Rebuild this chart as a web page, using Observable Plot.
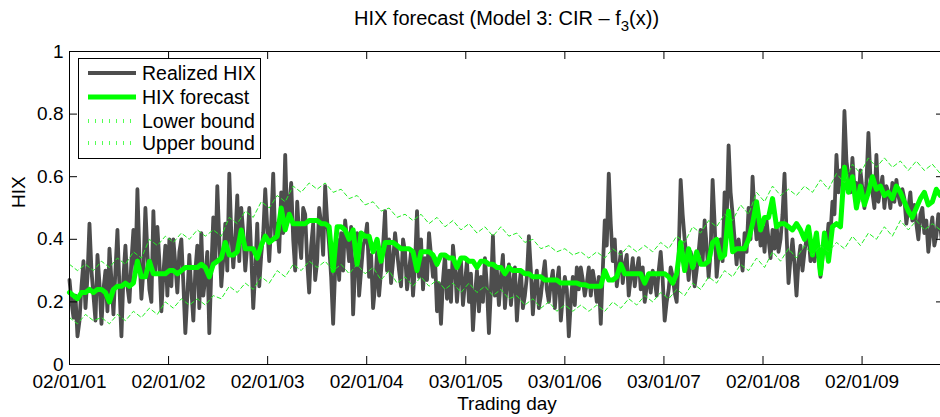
<!DOCTYPE html>
<html><head><meta charset="utf-8">
<script src="https://cdn.jsdelivr.net/npm/d3@7"></script>
<script src="https://cdn.jsdelivr.net/npm/@observablehq/plot@0.6"></script>
<style>
html,body{margin:0;padding:0;background:#fff;overflow:hidden;width:940px;height:417px}
#chart{position:relative;width:940px;height:417px;overflow:hidden}
#chart svg{display:block;max-width:none}
</style></head><body><div id="chart"></div>
<script>
// x-axis: trading-day index; tick labels are dates
const tickDays = [0, 250, 500, 750, 1000, 1250, 1500, 1750, 2000];
const tickLabels = ["02/01/01","02/01/02","02/01/03","02/01/04","03/01/05","03/01/06","03/01/07","02/01/08","02/01/09"];
const yTicks = [0, 0.2, 0.4, 0.6, 0.8, 1];
const seriesNames = ["Realized HIX", "HIX forecast", "Lower bound", "Upper bound"];
const realizedStep = 5.04;  // trading days between realized samples
const forecastStep = 10.08; // trading days between forecast samples
const boundStep = 20.16;    // trading days between samples of the bounds
const lastDay = 2208;

const realizedHIX = [
  0.27,0.20,0.15,0.22,0.09,0.14,0.25,0.33,0.18,0.28,0.45,0.30,0.22,0.14,0.35,0.26,0.13,0.24,0.30,0.17,0.37,0.27,0.16,0.30,0.43,0.25,0.09,0.28,0.38,0.25,0.20,0.33,0.43,0.30,0.56,0.35,0.21,0.30,0.50,0.36,0.24,0.20,0.49,0.30,0.44,0.33,0.17,0.29,0.38,0.22,
  0.40,0.25,0.40,0.32,0.23,0.36,0.40,0.26,0.10,0.22,0.35,0.24,0.14,0.30,0.38,0.18,0.42,0.22,0.28,0.36,0.10,0.30,0.47,0.33,0.57,0.40,0.25,0.34,0.45,0.30,0.61,0.42,0.31,0.40,0.54,0.33,0.50,0.42,0.30,0.38,0.50,0.35,0.18,0.30,0.45,0.25,0.35,0.42,0.56,0.44,
  0.33,0.45,0.61,0.40,0.45,0.36,0.55,0.42,0.67,0.45,0.50,0.58,0.40,0.30,0.52,0.41,0.34,0.50,0.48,0.33,0.23,0.38,0.45,0.27,0.33,0.50,0.45,0.35,0.57,0.46,0.38,0.28,0.13,0.30,0.40,0.27,0.42,0.30,0.46,0.40,0.33,0.44,0.16,0.31,0.42,0.22,0.30,0.38,0.40,0.45,
  0.28,0.35,0.18,0.25,0.36,0.22,0.30,0.38,0.49,0.30,0.40,0.26,0.33,0.42,0.36,0.30,0.25,0.40,0.36,0.24,0.30,0.36,0.22,0.32,0.49,0.28,0.40,0.24,0.34,0.27,0.42,0.35,0.28,0.34,0.17,0.26,0.13,0.27,0.35,0.21,0.30,0.20,0.38,0.31,0.20,0.29,0.33,0.19,0.26,0.33,
  0.20,0.29,0.11,0.22,0.30,0.17,0.28,0.20,0.34,0.25,0.10,0.24,0.41,0.22,0.30,0.19,0.28,0.35,0.18,0.26,0.32,0.19,0.26,0.31,0.14,0.24,0.30,0.18,0.22,0.28,0.41,0.30,0.16,0.25,0.30,0.18,0.22,0.28,0.33,0.24,0.20,0.26,0.30,0.18,0.26,0.31,0.14,0.22,0.28,0.24,
  0.09,0.20,0.28,0.19,0.31,0.24,0.31,0.27,0.22,0.26,0.31,0.22,0.30,0.26,0.20,0.28,0.13,0.30,0.46,0.38,0.61,0.45,0.33,0.40,0.25,0.30,0.36,0.26,0.32,0.35,0.22,0.28,0.34,0.25,0.30,0.34,0.24,0.31,0.20,0.25,0.29,0.23,0.30,0.27,0.22,0.30,0.36,0.27,0.14,0.20,
  0.24,0.31,0.28,0.23,0.20,0.35,0.59,0.48,0.40,0.34,0.27,0.36,0.33,0.25,0.30,0.36,0.43,0.33,0.46,0.38,0.28,0.36,0.59,0.45,0.28,0.35,0.40,0.33,0.55,0.45,0.70,0.55,0.48,0.40,0.32,0.40,0.35,0.30,0.42,0.36,0.50,0.40,0.60,0.48,0.40,0.47,0.38,0.44,0.36,0.46,
  0.40,0.34,0.43,0.37,0.45,0.36,0.40,0.48,0.61,0.42,0.26,0.34,0.40,0.32,0.22,0.33,0.38,0.30,0.36,0.40,0.42,0.33,0.37,0.33,0.40,0.35,0.28,0.34,0.40,0.37,0.45,0.42,0.52,0.48,0.67,0.55,0.62,0.58,0.81,0.65,0.60,0.55,0.66,0.56,0.58,0.52,0.62,0.56,0.50,0.58,
  0.74,0.60,0.55,0.50,0.67,0.52,0.56,0.60,0.50,0.57,0.55,0.50,0.58,0.52,0.59,0.54,0.51,0.56,0.53,0.45,0.50,0.55,0.46,0.51,0.45,0.40,0.48,0.50,0.42,0.46,0.36,0.42,0.47,0.38,0.41,0.48,0.44,0.38,0.47
];
const forecastHIX = [
  0.23,0.22,0.21,0.23,0.23,0.24,0.23,0.24,0.24,0.23,0.20,0.24,0.25,0.25,0.26,0.25,0.26,0.33,0.28,0.28,0.33,0.29,0.29,0.29,0.29,
  0.30,0.30,0.29,0.30,0.31,0.31,0.31,0.31,0.32,0.31,0.28,0.32,0.33,0.34,0.39,0.35,0.35,0.36,0.43,0.37,0.37,0.37,0.34,0.38,0.41,
  0.39,0.40,0.41,0.50,0.43,0.48,0.45,0.45,0.45,0.45,0.46,0.46,0.46,0.45,0.45,0.44,0.30,0.44,0.44,0.43,0.40,0.43,0.32,0.42,0.41,
  0.41,0.36,0.40,0.33,0.39,0.39,0.39,0.38,0.37,0.37,0.37,0.36,0.30,0.36,0.36,0.36,0.35,0.32,0.35,0.35,0.34,0.34,0.31,0.34,0.34,
  0.33,0.33,0.31,0.33,0.33,0.32,0.32,0.31,0.31,0.29,0.31,0.30,0.30,0.30,0.29,0.29,0.28,0.28,0.28,0.27,0.27,0.27,0.27,0.26,0.26,
  0.26,0.26,0.26,0.255,0.255,0.25,0.25,0.25,0.25,0.30,0.27,0.27,0.28,0.32,0.29,0.29,0.29,0.29,0.29,0.26,0.29,0.29,0.29,0.29,0.29,
  0.28,0.26,0.29,0.39,0.30,0.37,0.31,0.36,0.32,0.32,0.33,0.39,0.40,0.34,0.35,0.49,0.36,0.37,0.37,0.37,0.40,0.45,0.52,0.43,0.47,
  0.47,0.53,0.44,0.45,0.45,0.44,0.43,0.45,0.43,0.40,0.44,0.35,0.42,0.29,0.42,0.33,0.44,0.45,0.44,0.63,0.55,0.60,0.50,0.57,0.51,
  0.55,0.60,0.56,0.57,0.54,0.55,0.53,0.57,0.55,0.52,0.49,0.47,0.50,0.53,0.55,0.51,0.52,0.56,0.54,0.55
];
const lowerBound = [
  0.15,0.13,0.16,0.14,0.15,0.13,0.16,0.14,0.17,0.15,
  0.18,0.16,0.20,0.18,0.21,0.19,0.21,0.19,0.22,0.21,
  0.25,0.23,0.26,0.24,0.28,0.26,0.30,0.28,0.32,0.30,
  0.33,0.31,0.33,0.30,0.32,0.29,0.32,0.29,0.31,0.27,
  0.30,0.26,0.28,0.25,0.28,0.25,0.27,0.24,0.26,0.23,
  0.26,0.23,0.25,0.22,0.24,0.21,0.22,0.19,0.21,0.18,
  0.20,0.17,0.19,0.17,0.19,0.17,0.19,0.17,0.20,0.18,
  0.21,0.19,0.22,0.20,0.23,0.21,0.24,0.22,0.26,0.24,
  0.28,0.26,0.30,0.28,0.32,0.30,0.34,0.31,0.36,0.33,
  0.37,0.34,0.38,0.35,0.38,0.36,0.39,0.37,0.41,0.38,
  0.42,0.40,0.44,0.41,0.46,0.43,0.46,0.43,0.45,0.43,0.45
];
const upperBound = [
  0.32,0.30,0.32,0.30,0.33,0.31,0.34,0.32,0.36,0.34,
  0.40,0.38,0.41,0.39,0.42,0.40,0.43,0.41,0.43,0.41,
  0.47,0.45,0.49,0.47,0.52,0.50,0.54,0.52,0.57,0.55,
  0.58,0.56,0.58,0.55,0.56,0.53,0.54,0.51,0.52,0.49,
  0.50,0.47,0.48,0.46,0.48,0.45,0.47,0.44,0.46,0.43,
  0.45,0.42,0.44,0.41,0.44,0.41,0.42,0.39,0.40,0.37,
  0.38,0.36,0.37,0.35,0.36,0.34,0.36,0.34,0.37,0.35,
  0.38,0.36,0.38,0.36,0.39,0.37,0.41,0.39,0.44,0.42,
  0.46,0.44,0.48,0.46,0.51,0.48,0.55,0.52,0.57,0.54,
  0.56,0.54,0.57,0.55,0.59,0.56,0.61,0.58,0.64,0.61,
  0.66,0.63,0.66,0.63,0.65,0.62,0.65,0.62,0.64,0.61,0.63
];

const FONT = "'Liberation Sans', Arial, Helvetica, sans-serif";
const W = 945, H = 417, mL = 69, mR = 1, mT = 51, mB = 53;
const plotW = W - mL - mR, plotH = H - mT - mB, tk = 8;

const rData = realizedHIX.map((v, i) => ({day: i * realizedStep, v}));
const fData = forecastHIX.map((v, i) => ({day: i * forecastStep, v}));
const lData = lowerBound.map((v, i) => ({day: i * boundStep, v}));
const uData = upperBound.map((v, i) => ({day: i * boundStep, v}));

const GRAY = "#4d4d4d", GREEN = "#00ff00", DOT = "#22ee22";

const svgEl = Plot.plot({
  width: W, height: H,
  marginLeft: mL, marginRight: mR, marginTop: mT, marginBottom: mB,
  style: {fontFamily: FONT, fontSize: "19px", background: "#fff", color: "#000", maxWidth: "none"},
  x: {domain: [0, lastDay], axis: null},
  y: {domain: [0, 1], axis: null},
  marks: [
    Plot.line(rData, {x: "day", y: "v", stroke: GRAY, strokeWidth: 3.8, strokeLinejoin: "round", strokeLinecap: "round"}),
    Plot.line(fData, {x: "day", y: "v", stroke: GREEN, strokeWidth: 5, strokeLinejoin: "round", strokeLinecap: "round"}),
    Plot.line(lData, {x: "day", y: "v", stroke: DOT, strokeWidth: 1, strokeDasharray: "4,3"}),
    Plot.line(uData, {x: "day", y: "v", stroke: DOT, strokeWidth: 1, strokeDasharray: "4,3"}),
    Plot.frame({stroke: "#000", strokeWidth: 1}),
    Plot.tickX(tickDays, {x: d => d, insetTop: plotH - tk, stroke: "#000"}),
    Plot.tickX(tickDays, {x: d => d, insetBottom: plotH - tk, stroke: "#000"}),
    Plot.tickY(yTicks, {y: d => d, insetRight: plotW - tk, stroke: "#000"}),
    Plot.tickY(yTicks, {y: d => d, insetLeft: plotW - tk, stroke: "#000"}),
    Plot.axisX(tickDays, {anchor: "bottom", tickSize: 0, tickPadding: 10, label: null,
      tickFormat: d => tickLabels[tickDays.indexOf(d)]}),
    Plot.axisY(yTicks, {anchor: "left", tickSize: 0, tickPadding: 6, label: null,
      tickFormat: d => String(d)}),
    Plot.text(["Trading day"], {frameAnchor: "bottom", dy: 45, text: d => d, fill: "#000"}),
    Plot.text(["HIX"], {frameAnchor: "left", dx: -51, rotate: -90, text: d => d, fill: "#000"})
  ]
});
document.getElementById("chart").appendChild(svgEl);

const svg = d3.select(svgEl);
// Title with subscript
const title = svg.append("text")
  .attr("x", mL + plotW / 2).attr("y", 25)
  .attr("text-anchor", "middle")
  .style("font-family", FONT).style("font-size", "20px").attr("fill", "#000");
title.append("tspan").text("HIX forecast (Model 3: CIR \u2013 f");
title.append("tspan").attr("dy", 6).style("font-size", "15px").text("3");
title.append("tspan").attr("dy", -6).text("(x))");

// Legend
const lg = svg.append("g").style("font-family", FONT).style("font-size", "19.5px");
lg.append("rect").attr("x", 78.5).attr("y", 58.5).attr("width", 182).attr("height", 100)
  .attr("fill", "#fff").attr("stroke", "#000").attr("stroke-width", 1);
const rowsY = [73, 97, 121, 143];
const sampleStyles = [
  {stroke: GRAY, w: 4, dash: null},
  {stroke: GREEN, w: 5, dash: null},
  {stroke: "#55ff55", w: 4, dash: "1,6"},
  {stroke: "#55ff55", w: 4, dash: "1,6"}
];
seriesNames.forEach((name, i) => {
  const s = sampleStyles[i];
  const ln = lg.append("line").attr("x1", 88).attr("x2", 136).attr("y1", rowsY[i]).attr("y2", rowsY[i])
    .attr("stroke", s.stroke).attr("stroke-width", s.w);
  if (s.dash) ln.attr("stroke-dasharray", s.dash);
  lg.append("text").attr("x", 142).attr("y", rowsY[i] + 7).attr("text-anchor", "start")
    .attr("fill", "#000").text(name);
});
</script>
</body></html>
